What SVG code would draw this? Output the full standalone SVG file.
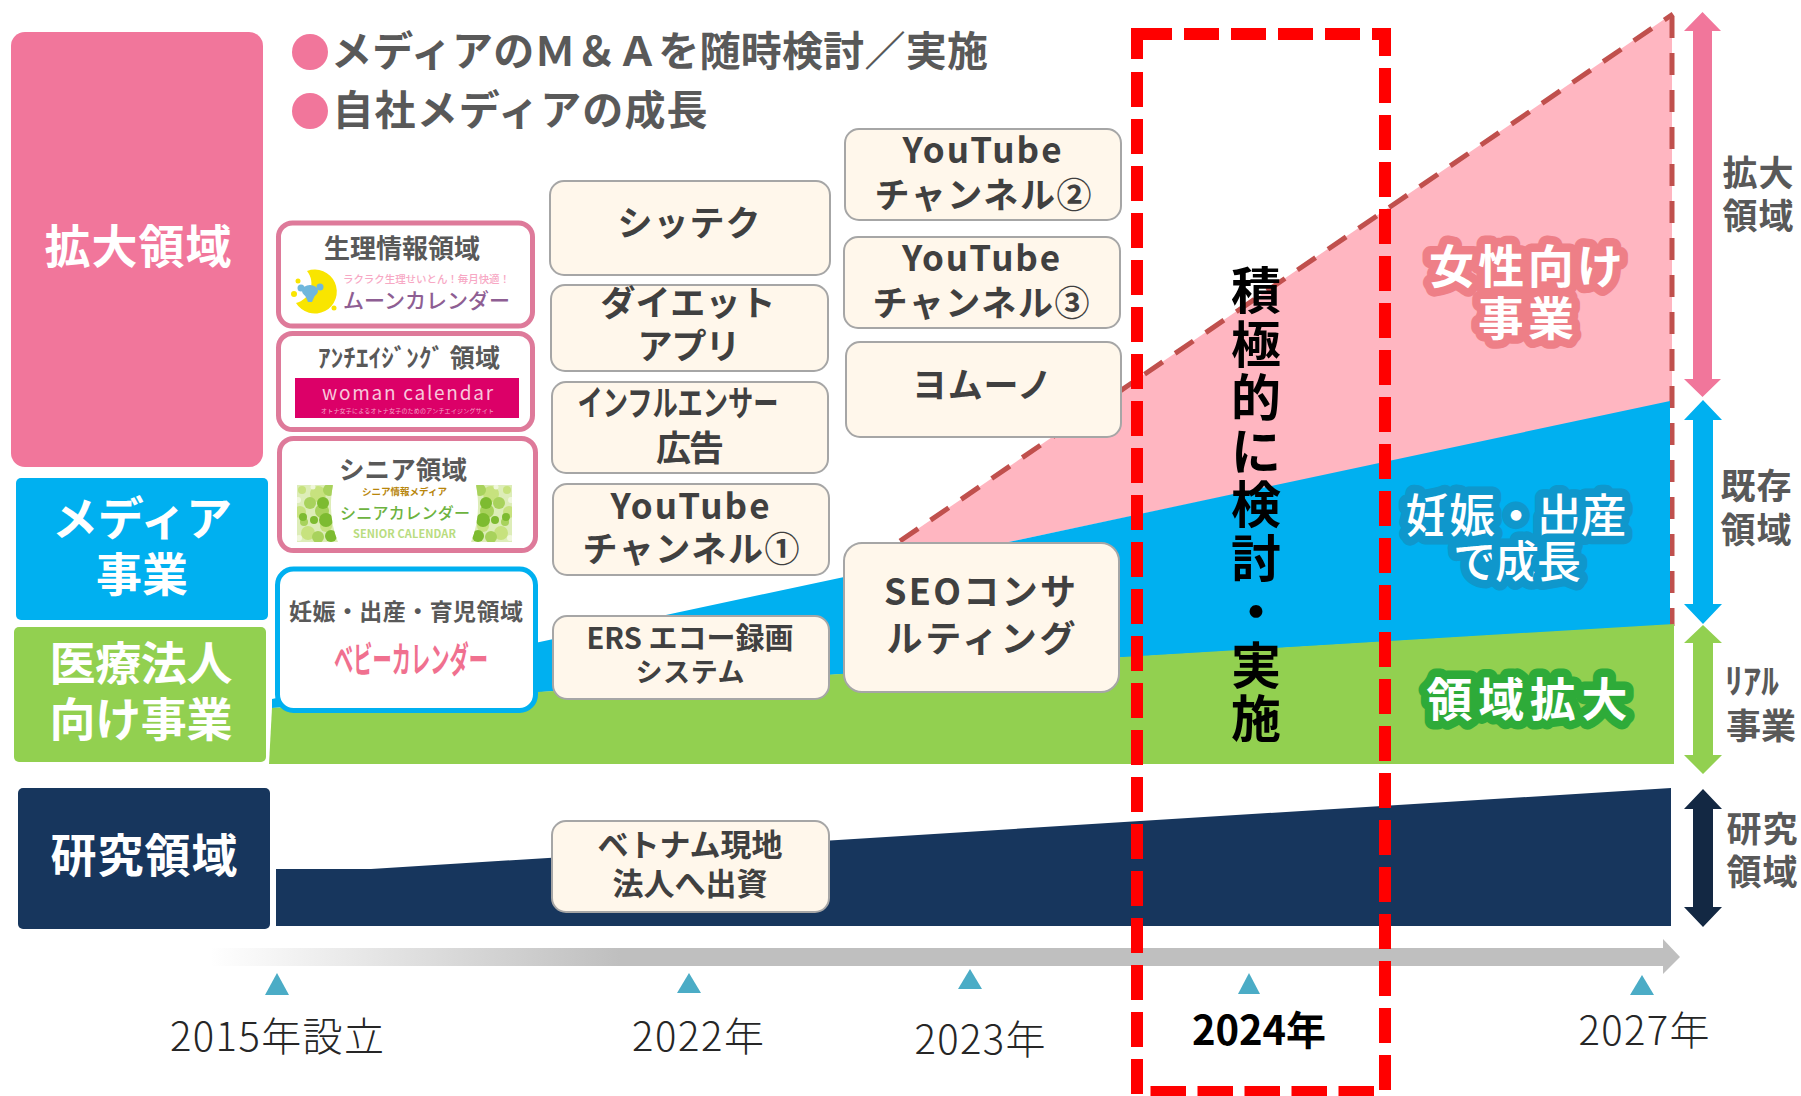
<svg xmlns="http://www.w3.org/2000/svg" width="1801" height="1096" viewBox="0 0 1801 1096">
<style>
text{font-family:"Noto Sans CJK JP","Noto Sans",sans-serif;text-anchor:middle}
.w{fill:#fff;font-weight:700;font-size:46px}
.g{fill:#595959;font-weight:700}
.b{fill:#404040;font-weight:700;font-size:35px}
.y{fill:#262626;font-weight:300;font-size:40px}
.box{fill:#FFF7EB;stroke:#A6A6A6;stroke-width:2}
.pk{fill:#fff;stroke:#DE7A9A;stroke-width:5}
.tri{fill:#4BACC6}
.red{fill:none;stroke:#FF0000;stroke-width:12}
.dsh{fill:none;stroke:#C0504D;stroke-width:5;stroke-dasharray:22 15}
.halo{fill:#fff;font-weight:700;font-size:46px;stroke-width:17px;stroke-linejoin:round;paint-order:stroke}
.r{fill:#595959;font-weight:700;font-size:35px}
</style>
<defs>
<linearGradient id="tl" gradientUnits="userSpaceOnUse" x1="210" y1="0" x2="620" y2="0"><stop offset="0" stop-color="#BFBFBF" stop-opacity="0"/><stop offset="1" stop-color="#BFBFBF"/></linearGradient>
<clipPath id="sc"><path d="M297 485H333C329 505 331 525 338 542H297Z"/></clipPath>
<g id="dots" clip-path="url(#sc)">
<rect x="297" y="485" width="45" height="57" fill="#DDEDB8"/>
<g fill="#C7E27E"><circle cx="302" cy="490" r="4"/><circle cx="318" cy="494" r="8"/><circle cx="300" cy="512" r="6"/><circle cx="308" cy="533" r="7"/><circle cx="326" cy="526" r="6"/></g>
<g fill="#A8D25C"><circle cx="310" cy="503" r="6"/><circle cx="329" cy="490" r="6"/><circle cx="322" cy="511" r="7"/><circle cx="318" cy="537" r="6"/><circle cx="304" cy="522" r="4"/></g>
<g fill="#7DBB30"><circle cx="323" cy="503" r="6"/><circle cx="303" cy="517" r="4"/><circle cx="326" cy="520" r="7"/><circle cx="331" cy="536" r="6"/><circle cx="314" cy="520" r="4"/></g>
<g fill="#F0F7DC"><circle cx="298" cy="500" r="3"/><circle cx="299" cy="538" r="3"/><circle cx="313" cy="487" r="2.500"/></g>
</g>
</defs>
<g id="areas">
<path id="area-pink" d="M900 541L1672 14V402L900 565Z" fill="#FFB6C1"/>
<path class="dsh" d="M900 541L1673 14"/>
<path class="dsh" d="M1672 16V626"/>
<path id="area-blue" d="M272 699L1670 401V625L272 708Z" fill="#00B0F0"/>
<path id="area-green" d="M272 708L1674 624V764H269Z" fill="#92D050"/>
<path id="area-navy" d="M276 869H371L1671 788V926H276Z" fill="#17365D"/>
</g>
<g id="timeline">
<path d="M210 948H1663V939L1680 957L1663 974V966H210Z" fill="url(#tl)"/>
<path class="tri" d="M277 973L289 995H265Z"/>
<path class="tri" d="M689 973L701 993H677Z"/>
<path class="tri" d="M970 969L982 989H958Z"/>
<path class="tri" d="M1249 973L1260 994H1238Z"/>
<path class="tri" d="M1642 975L1654 995H1630Z"/>
<text class="y" x="277" y="1051" textLength="214">2015年設立</text>
<text class="y" x="698" y="1051" textLength="132">2022年</text>
<text class="y" x="980" y="1054" textLength="131">2023年</text>
<text class="y" x="1259" y="1045" textLength="134" style="font-weight:700;fill:#000">2024年</text>
<text class="y" x="1644" y="1045" textLength="131">2027年</text>
</g>
<g id="highlight">
<path class="red" d="M1137 59V34H1172"/>
<path class="red" stroke-dasharray="35 12" d="M1172 34H1184H1385V1092" stroke-dashoffset="-12"/>
<path class="red" stroke-dasharray="35 12" d="M1137 72V1096"/>
<path class="red" stroke-dasharray="35.5 11.5" d="M1150.500 1092H1376"/>
<text style="font-weight:700;font-size:50px;fill:#000">
<tspan x="1256" y="309">積</tspan><tspan x="1256" y="362.500">極</tspan><tspan x="1256" y="416">的</tspan><tspan x="1256" y="469.500">に</tspan><tspan x="1256" y="523">検</tspan><tspan x="1256" y="576.500">討</tspan><tspan x="1256" y="630">・</tspan><tspan x="1256" y="683.500">実</tspan><tspan x="1256" y="737">施</tspan>
</text>
</g>
<g id="node-expand"><rect x="11" y="32" width="252" height="435" rx="14" fill="#F1769B"/><text class="w" x="138" y="263" textLength="187">拡大領域</text></g>
<g id="node-media"><rect x="16" y="478" width="252" height="142" rx="5" fill="#00B0F0"/><text class="w" x="142" y="535" textLength="180">メディア</text><text class="w" x="142" y="591">事業</text></g>
<g id="node-medical"><rect x="14" y="627" width="252" height="135" rx="5" fill="#92D050"/><text class="w" x="141" y="680" textLength="183">医療法人</text><text class="w" x="141" y="736" textLength="183">向け事業</text></g>
<g id="node-research"><rect x="18" y="788" width="252" height="141" rx="5" fill="#17365D"/><text class="w" x="144" y="872" textLength="187">研究領域</text></g>
<g id="headline">
<circle cx="310" cy="52" r="18" fill="#F1769B"/><circle cx="310" cy="111" r="18" fill="#F1769B"/>
<text class="g" x="659.500" y="66" font-size="41" textLength="657">メディアのＭ＆Ａを随時検討／実施</text>
<text class="g" x="520" y="125" font-size="41" textLength="375">自社メディアの成長</text>
</g>
<g id="node-moon">
<rect class="pk" x="278.500" y="223" width="254" height="103" rx="14"/>
<text class="g" x="402" y="258" font-size="26" textLength="156">生理情報領域</text>
<path d="M307 271A22 22 0 1 1 296 303A20 20 0 0 0 307 271Z" fill="#F9E500"/>
<circle cx="298" cy="281" r="2.500" fill="#F9E500"/><circle cx="294" cy="294" r="3" fill="#F9E500"/><circle cx="334" cy="308" r="2.500" fill="#F9E500"/>
<path d="M304 293H316L312 302H308Z" fill="#6FB7DC"/><ellipse cx="310" cy="291" rx="8" ry="6" fill="#6FB7DC"/><circle cx="301" cy="288" r="3.500" fill="#6FB7DC"/><circle cx="320" cy="287" r="3.500" fill="#6FB7DC"/>
<text x="426.500" y="283" font-size="10.500" fill="#F7A8C4" font-weight="500" textLength="167">ラクラク生理せいとん！毎月快適！</text>
<text x="426.500" y="308" font-size="21" fill="#8E5E93" font-weight="500" textLength="167">ムーンカレンダー</text>
</g>
<g id="node-woman">
<rect class="pk" x="278.500" y="333.500" width="254" height="96" rx="14"/>
<text class="g" x="409" y="367" font-size="25" textLength="182">ｱﾝﾁｴｲｼﾞﾝｸﾞ 領域</text>
<rect x="295" y="378" width="224" height="40" fill="#DC0068"/>
<text x="407.500" y="400" font-size="19" fill="#F8C8DC" font-family="Noto Sans" textLength="171">woman calendar</text>
<text x="407.500" y="413" font-size="6" fill="#F4A6C8" textLength="173">オトナ女子によるオトナ女子のためのアンチエイジングサイト</text>
</g>
<g id="node-senior">
<rect class="pk" x="279.500" y="438.500" width="256" height="112" rx="14"/>
<text class="g" x="403" y="479" font-size="25.500" textLength="128">シニア領域</text>
<use href="#dots"/>
<use href="#dots" transform="translate(809 0) scale(-1 1)"/>
<text x="404.500" y="495" font-size="9.500" fill="#B8860B" font-weight="700" textLength="85">シニア情報メディア</text>
<text x="405" y="519" font-size="16" fill="#6DB33F" font-weight="500" textLength="130">シニアカレンダー</text>
<text x="404.500" y="537.500" font-size="11" fill="#B9DC7F" font-weight="700" font-family="Liberation Sans" textLength="103">SENIOR CALENDAR</text>
</g>
<g id="node-baby">
<rect x="277.500" y="569" width="258" height="141.500" rx="16" fill="#fff" stroke="#00B0F0" stroke-width="5"/>
<text class="g" x="406" y="620" font-size="23" textLength="234">妊娠・出産・育児領域</text>
<text x="411" y="673" font-size="36" font-weight="700" fill="#F0708F" textLength="154" lengthAdjust="spacingAndGlyphs">ベビーカレンダー</text>
</g>
<g id="node-shittech"><rect class="box" x="550" y="181" width="280" height="94" rx="14"/><text class="b" x="689" y="236" textLength="143">シッテク</text></g>
<g id="node-diet"><rect class="box" x="551" y="285" width="277" height="86" rx="14"/><text class="b" x="688" y="316" textLength="175">ダイエット</text><text class="b" x="689" y="359" textLength="103">アプリ</text></g>
<g id="node-influencer"><rect class="box" x="552" y="382" width="276" height="91" rx="14"/><text class="b" x="678" y="416" textLength="201" lengthAdjust="spacingAndGlyphs">インフルエンサー</text><text class="b" x="690" y="461" textLength="68">広告</text></g>
<g id="node-yt1"><rect class="box" x="553" y="484" width="276" height="91" rx="14"/><text class="b" x="690" y="519" textLength="159">YouTube</text><text class="b" x="691" y="562" textLength="217">チャンネル①</text></g>
<g id="node-ers"><rect class="box" x="553" y="616" width="276" height="83" rx="14"/><text class="b" x="690" y="649" style="font-size:29px" textLength="207">ERS エコー録画</text><text class="b" x="690" y="682" style="font-size:27px" textLength="109">システム</text></g>
<g id="node-vietnam"><rect class="box" x="552" y="821" width="277" height="91" rx="14"/><text class="b" x="690" y="856" style="font-size:31px" textLength="185">ベトナム現地</text><text class="b" x="690" y="895" style="font-size:31px" textLength="155">法人へ出資</text></g>
<g id="node-seo"><rect class="box" x="844" y="543" width="275" height="149" rx="18"/><text class="b" x="980" y="605" style="font-size:36px" textLength="192">SEOコンサ</text><text class="b" x="981" y="652" style="font-size:36px" textLength="189">ルティング</text></g>
<g id="node-yt2"><rect class="box" x="845" y="129" width="276" height="91" rx="14"/><text class="b" x="982" y="163" textLength="159">YouTube</text><text class="b" x="983" y="208" textLength="217">チャンネル②</text></g>
<g id="node-yt3"><rect class="box" x="844" y="237" width="276" height="91" rx="14"/><text class="b" x="981" y="271" textLength="158">YouTube</text><text class="b" x="981" y="316" textLength="217">チャンネル③</text></g>
<g id="node-yomuno"><rect class="box" x="846" y="342" width="275" height="95" rx="14"/><text class="b" x="982" y="398" textLength="140">ヨムーノ</text></g>
<g id="area-labels">
<text class="halo" x="1526" y="283" stroke="#EE7F87" textLength="194">女性向け</text>
<text class="halo" x="1526" y="335" stroke="#EE7F87" textLength="96">事業</text>
<text class="halo" x="1516" y="532" stroke="#0F97CC" style="font-weight:500" textLength="221">妊娠・出産</text>
<text class="halo" x="1517" y="578" stroke="#0F97CC" style="font-weight:500;font-size:44px" textLength="128">で成長</text>
<text class="halo" x="1527" y="716" stroke="#2EAB39" textLength="201">領域拡大</text>
</g>
<g id="connectors">
<path d="M1702.500 12L1721 31H1712V379H1721L1702.500 397L1684 379H1693V31H1684Z" fill="#F1769B"/>
<path d="M1703 400L1722 420H1713V604H1722L1703 624L1684 604H1693V420H1684Z" fill="#00B0F0"/>
<path d="M1703 625L1722 643H1713V755H1722L1703 774L1684 755H1693V643H1684Z" fill="#92D050"/>
<path d="M1703 789L1722 809H1713V907H1722L1703 927L1684 907H1693V809H1684Z" fill="#132843"/>
</g>
<g id="side-labels">
<text class="r" x="1758" y="186" textLength="71">拡大</text><text class="r" x="1758" y="229" textLength="71">領域</text>
<text class="r" x="1756" y="499" textLength="71">既存</text><text class="r" x="1756" y="543" textLength="71">領域</text>
<text class="r" x="1752" y="694" textLength="54" lengthAdjust="spacingAndGlyphs">ﾘｱﾙ</text><text class="r" x="1761" y="739" textLength="70">事業</text>
<text class="r" x="1762" y="842" textLength="71">研究</text><text class="r" x="1762" y="885" textLength="71">領域</text>
</g>
</svg>
